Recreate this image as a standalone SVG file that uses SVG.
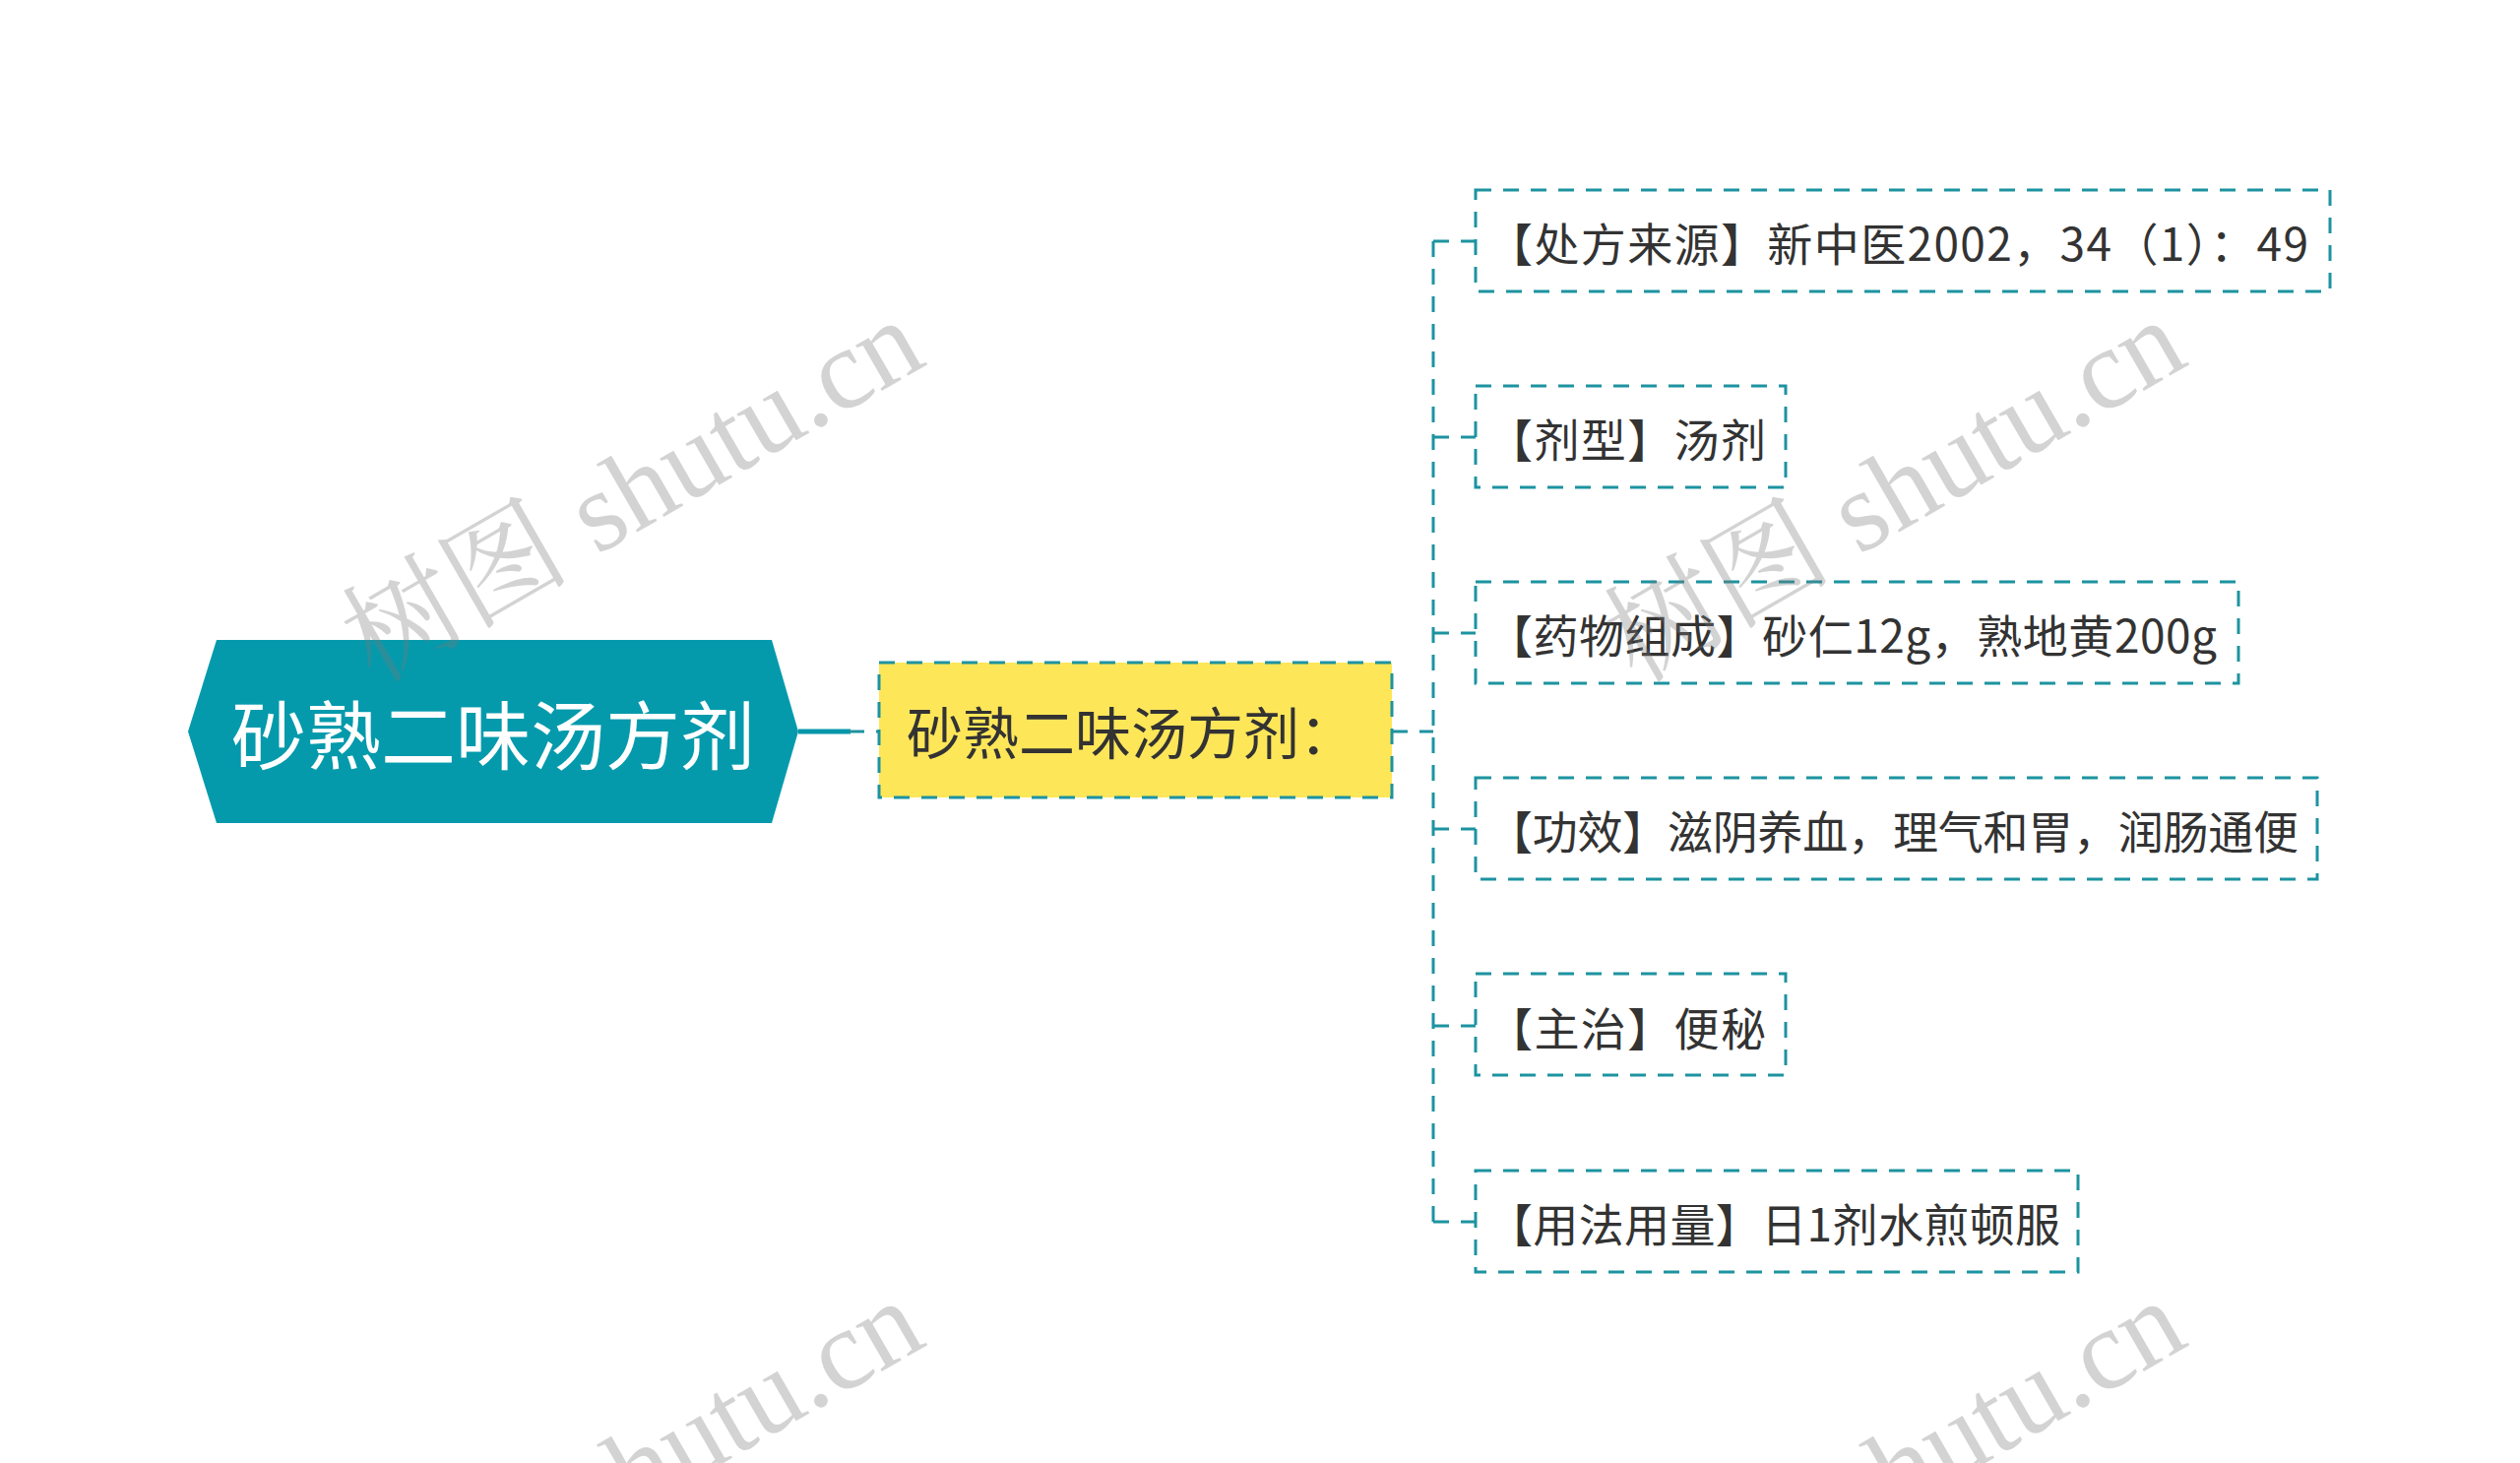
<svg xmlns="http://www.w3.org/2000/svg" width="2560" height="1486" viewBox="0 0 2560 1486">
<style>
.cjk{font-family:"Noto Sans CJK SC","Noto Sans",sans-serif;}
.child rect{fill:#ffffff;stroke:#1d93a0;stroke-width:3;stroke-dasharray:16 12;}
.child text{font-size:46px;fill:#333333;dominant-baseline:central;}
.dash{fill:none;stroke:#1d93a0;stroke-width:3;stroke-dasharray:16 12;}
.wm{font-family:"Liberation Serif","Noto Serif CJK SC","Noto Sans CJK SC",serif;font-size:116px;fill:#7a7a7a;fill-opacity:0.33;}
</style>
<rect width="2560" height="1486" fill="#ffffff"/>
<g id="connectors">
<line x1="811" y1="743" x2="864" y2="743" stroke="#0597a9" stroke-width="5"/>
<line class="dash" x1="862" y1="743" x2="893" y2="743"/>
<line class="dash" x1="1414" y1="743" x2="1456" y2="743"/>
<line class="dash" x1="1456" y1="245" x2="1456" y2="1241"/>
<line class="dash" x1="1456" y1="245" x2="1499" y2="245"/>
<line class="dash" x1="1456" y1="444" x2="1499" y2="444"/>
<line class="dash" x1="1456" y1="643" x2="1499" y2="643"/>
<line class="dash" x1="1456" y1="842" x2="1499" y2="842"/>
<line class="dash" x1="1456" y1="1042" x2="1499" y2="1042"/>
<line class="dash" x1="1456" y1="1241" x2="1499" y2="1241"/>
</g>
<g id="root">
<polygon points="191,743 220,650 784,650 811,743 784,836 220,836" fill="#049aac"/>
<text class="cjk" x="501" y="743" font-size="76" fill="#ffffff" text-anchor="middle" dominant-baseline="central">砂熟二味汤方剂</text>
</g>
<g id="main">
<rect x="893" y="673" width="521" height="137" fill="#fee659" stroke="#1d93a0" stroke-width="3" stroke-dasharray="16 12"/>
<text class="cjk" x="921" y="741" font-size="57" fill="#333333" dominant-baseline="central">砂熟二味汤方剂：</text>
</g>
<g id="child1" class="child">
<rect x="1499" y="193" width="868" height="103"/>
<text class="cjk" x="1511" y="245" textLength="834" lengthAdjust="spacing">【处方来源】新中医2002，34（1）：49</text>
</g>
<g id="child2" class="child">
<rect x="1499" y="392" width="315" height="103"/>
<text class="cjk" x="1511" y="444" textLength="283" lengthAdjust="spacing">【剂型】汤剂</text>
</g>
<g id="child3" class="child">
<rect x="1499" y="591" width="775" height="103"/>
<text class="cjk" x="1511" y="643" textLength="741" lengthAdjust="spacing">【药物组成】砂仁12g，熟地黄200g</text>
</g>
<g id="child4" class="child">
<rect x="1499" y="790" width="855" height="103"/>
<text class="cjk" x="1511" y="842" textLength="824" lengthAdjust="spacing">【功效】滋阴养血，理气和胃，润肠通便</text>
</g>
<g id="child5" class="child">
<rect x="1499" y="989" width="315" height="103"/>
<text class="cjk" x="1511" y="1042" textLength="283" lengthAdjust="spacing">【主治】便秘</text>
</g>
<g id="child6" class="child">
<rect x="1499" y="1189" width="612" height="103"/>
<text class="cjk" x="1511" y="1241" textLength="582" lengthAdjust="spacing">【用法用量】日1剂水煎顿服</text>
</g>
<g id="watermarks">
<text class="wm" text-anchor="middle" transform="translate(662,532) rotate(-30)">树图 shutu.cn</text>
<text class="wm" text-anchor="middle" transform="translate(1944,532) rotate(-30)">树图 shutu.cn</text>
<text class="wm" text-anchor="middle" transform="translate(662,1528) rotate(-30)">树图 shutu.cn</text>
<text class="wm" text-anchor="middle" transform="translate(1944,1528) rotate(-30)">树图 shutu.cn</text>
</g>
</svg>
